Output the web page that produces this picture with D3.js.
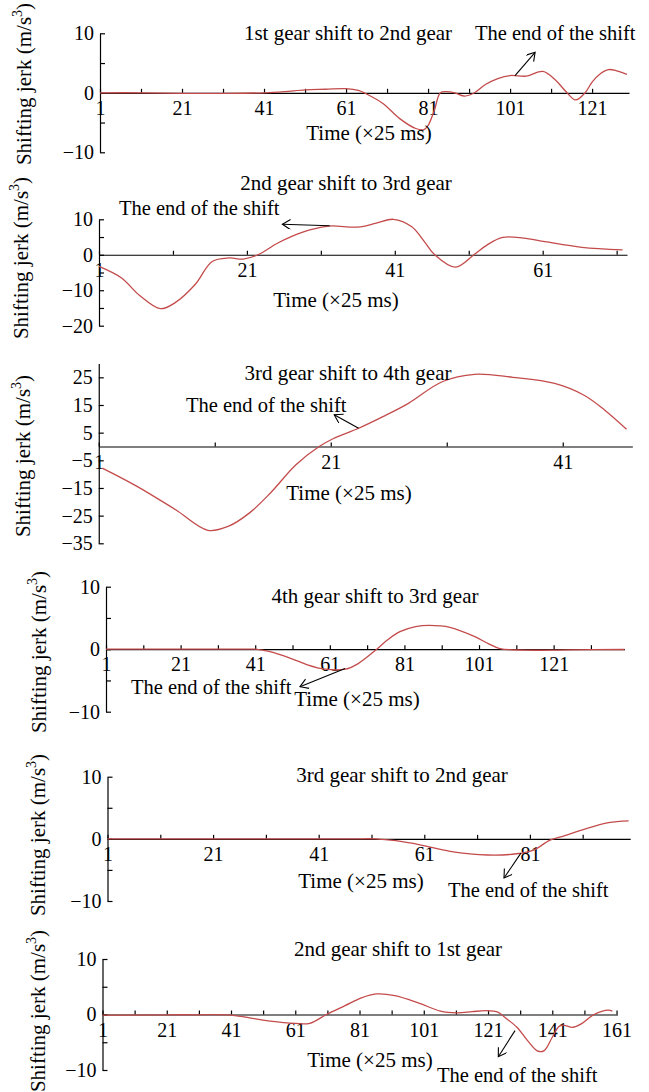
<!DOCTYPE html>
<html>
<head>
<meta charset="utf-8">
<script src="https://cdn.jsdelivr.net/npm/d3@7"></script>
<style>
  body { margin: 0; background: #fff; }
  svg text { font-family: "Liberation Serif", "Times New Roman", serif; fill: #000; }
</style>
</head>
<body>
<script>
// titles of the six shift cases
const titles = [
  "1st gear shift to 2nd gear",
  "2nd gear shift to 3rd gear",
  "3rd gear shift to 4th gear",
  "4th gear shift to 3rd gear",
  "3rd gear shift to 2nd gear",
  "2nd gear shift to 1st gear"
];

// time samples (x25 ms) and jerk values (m/s^3)
const shift12Time = [1, 11, 21, 31, 41, 46, 51, 56, 61, 64, 66, 70, 74, 78, 80, 81, 82.5, 84, 85.5, 87.5, 90, 92.3, 95, 98, 101, 105, 109, 112, 114.5, 117, 119.3, 121, 123, 125, 127, 129.5];
const shift12Jerk = [0, 0, -0.1, -0.1, 0, 0.2, 0.5, 0.6, 0.7, 0.4, -0.2, -1.8, -4.3, -6.0, -6.2, -5.5, -3.0, 0, 0.2, 0, -0.55, 0, 1.4, 2.4, 2.9, 2.8, 3.6, 2.2, 0.3, -1.2, 0, 1.8, 3.2, 3.9, 3.7, 3.1];

const shift23Time = [1, 4, 6.5, 9.3, 11.3, 14, 16.3, 18.6, 20.5, 22.5, 25, 27, 29.5, 32.1, 36, 38.5, 40.8, 43.3, 45, 46.4, 49.2, 51.7, 53.5, 55.6, 58.4, 61.3, 66.3, 71.8];
const shift23Jerk = [-3.3, -6.5, -11.5, -15.2, -13.5, -8.4, -1.9, -0.9, -1.2, 0, 3.1, 5.1, 7.0, 8.1, 7.8, 8.9, 10, 7.9, 3.7, 0, -3.5, 0, 2.8, 4.9, 4.7, 3.7, 2.1, 1.4];

const shift34Time = [1.3, 4.3, 7.6, 10.4, 12.2, 14, 15.8, 18, 20, 21.2, 23.4, 25.5, 27.7, 30.6, 33.4, 36.7, 40.3, 42.8, 44.6, 46.5];
const shift34Jerk = [-7.8, -14.4, -22.8, -30.3, -28.8, -24, -16.8, -6.6, 0, 2.8, 6.6, 10.8, 15.6, 23.4, 26.1, 25, 22.8, 18.6, 13.2, 6.2];

const shift43Time = [1, 11, 21, 31, 38, 41, 45, 50.7, 55, 59.7, 65.2, 68.6, 73.6, 76.5, 79.8, 84, 87.6, 93.2, 99.9, 103.5, 106.6, 113.3, 125, 140];
const shift43Jerk = [0, 0, 0, 0, 0, 0, -0.4, -1.5, -2.5, -3.2, -3.2, -2.3, 0, 1.5, 2.8, 3.6, 3.8, 3.5, 2.0, 0.9, 0.1, -0.15, -0.1, -0.05];

const shift32Time = [1, 11, 21, 31, 41, 48, 51.7, 55.6, 60.4, 65.9, 73, 78.5, 81.7, 84.8, 86.8, 91.1, 95.9, 99.7];
const shift32Jerk = [0, 0, 0, 0, 0, 0, 0, -0.3, -1.0, -2.0, -2.6, -2.4, -1.8, -0.2, 0.3, 1.5, 2.6, 2.9];

const shift21Time = [1, 11, 21, 31, 41, 46.8, 53.3, 61, 65.5, 70.7, 76.5, 81.6, 86.2, 92, 99.7, 106.2, 111.3, 116, 120.4, 124.2, 126.2, 130, 133.3, 136.5, 138.5, 141, 143, 144.2, 147.5, 150, 154, 158.4, 159.7];
const shift21Jerk = [-0.1, -0.1, -0.05, -0.05, -0.1, -0.6, -1.2, -1.6, -1.6, 0, 1.6, 3.0, 3.7, 3.4, 2.0, 0.6, 0.3, 0.5, 0.7, 0.4, -0.5, -2.3, -4.7, -6.6, -6.5, -4.1, -2.2, -1.9, -2.3, -1.7, 0, 0.8, 0.6];

// axis extents and ticks
const timeMax = [130, 72.4, 47, 140, 100, 161.3];
const jerkDomains = [[-10, 10], [-20, 10], [-35, 30], [-10, 10], [-10, 10], [-10, 10]];
const jerkTicks = [
  [-10, -5, 0, 5, 10],
  [-20, -15, -10, -5, 0, 5, 10],
  [-35, -25, -15, -5, 5, 15, 25],
  [-10, -5, 0, 5, 10],
  [-10, -5, 0, 5, 10],
  [-10, -5, 0, 5, 10]
];
const jerkTickLabels = [
  [-10, 0, 10],
  [-20, -10, 0, 10],
  [-35, -25, -15, -5, 5, 15, 25],
  [-10, 0, 10],
  [-10, 0, 10],
  [-10, 0, 10]
];

// "end of the shift" arrows, [time, jerk] of tail and head
const arrowFrom = [[102.2, 2.9], [32.2, 8.2], [23.4, 6.6], [65.1, -3.1], [79.3, -2.3], [129.4, -2.9]];
const arrowTo = [[107.1, 6.8], [25.8, 8.6], [21.3, 11.5], [53, -6.0], [76.1, -6.3], [124.2, -7.6]];

const series = [
  [shift12Time, shift12Jerk],
  [shift23Time, shift23Jerk],
  [shift34Time, shift34Jerk],
  [shift43Time, shift43Jerk],
  [shift32Time, shift32Jerk],
  [shift21Time, shift21Jerk]
];

// page layout of each panel (pixels)
const layout = [
  { x: [100, 629], y: [152.3, 33.3], title: [348, 40], note: [475, 40], xlab: [369, 140], ylab: [31, 84] },
  { x: [99, 627], y: [325.7, 219.3], title: [346, 190], note: [119, 215], xlab: [336, 307], ylab: [28, 258] },
  { x: [98.75, 632.35], y: [543.3, 363.5], title: [348, 380], note: [186, 412], xlab: [349, 500], ylab: [30, 456] },
  { x: [106, 624.5], y: [711.7, 586.7], title: [375, 603], note: [131, 694], xlab: [357, 706], ylab: [46, 652] },
  { x: [107.5, 630.2], y: [901, 776.7], title: [402, 782], note: [448, 897], xlab: [361, 888], ylab: [45, 835] },
  { x: [102.5, 617.5], y: [1070, 959], title: [398, 956], note: [437, 1082], xlab: [370, 1067], ylab: [45, 1011] }
];

const width = 649, height = 1092;
const serif = '"Liberation Serif", "Times New Roman", serif';
const fmt = d3.format('d');

const svg = d3.select('body')
  .append('svg')
  .attr('width', width)
  .attr('height', height);

svg.append('defs')
  .append('marker')
  .attr('id', 'head')
  .attr('markerUnits', 'userSpaceOnUse')
  .attr('markerWidth', 12)
  .attr('markerHeight', 12)
  .attr('refX', 9)
  .attr('refY', 5)
  .attr('orient', 'auto')
  .append('path')
  .attr('d', 'M1,0 L9,5 L1,10')
  .attr('fill', 'none')
  .attr('stroke', '#000')
  .attr('stroke-width', 1.1);

series.forEach(function (s, i) {
  const L = layout[i];
  const x = d3.scaleLinear().domain([1, timeMax[i]]).range(L.x);
  const y = d3.scaleLinear().domain(jerkDomains[i]).range(L.y);
  const g = svg.append('g');

  const xt = d3.range(1, timeMax[i] + 0.01, 10);
  const xAxis = g.append('g')
    .attr('transform', 'translate(0,' + y(0) + ')')
    .call(d3.axisBottom(x)
      .tickValues(xt)
      .tickSizeInner(-4)
      .tickSizeOuter(0)
      .tickPadding(8)
      .tickFormat(d => (d - 1) % 20 === 0 ? fmt(d) : ''));

  const yAxis = g.append('g')
    .attr('transform', 'translate(' + L.x[0] + ',0)')
    .call(d3.axisLeft(y)
      .tickValues(jerkTicks[i])
      .tickSizeInner(-5)
      .tickSizeOuter(0)
      .tickPadding(6)
      .tickFormat(d => jerkTickLabels[i].includes(d) ? fmt(d) : ''));

  [xAxis, yAxis].forEach(function (a) {
    a.attr('font-family', serif).attr('font-size', 20);
    a.selectAll('path, line').attr('stroke', '#000').attr('stroke-width', 1.2);
  });

  // jerk curve
  const line = d3.line()
    .x(d => x(d[0]))
    .y(d => y(d[1]))
    .curve(d3.curveCatmullRom.alpha(0.5));

  g.append('path')
    .datum(d3.zip(s[0], s[1]))
    .attr('d', line)
    .attr('fill', 'none')
    .attr('stroke', '#c44b4b')
    .attr('stroke-width', 1.3);

  // texts
  g.append('text')
    .attr('x', L.title[0]).attr('y', L.title[1])
    .attr('text-anchor', 'middle')
    .attr('font-size', 21)
    .text(titles[i]);

  g.append('text')
    .attr('x', L.note[0]).attr('y', L.note[1])
    .attr('font-size', 20.5)
    .text('The end of the shift');

  g.append('text')
    .attr('x', L.xlab[0]).attr('y', L.xlab[1])
    .attr('text-anchor', 'middle')
    .attr('font-size', 21)
    .text('Time (\u00d725 ms)');

  const yl = g.append('text')
    .attr('transform', 'translate(' + L.ylab[0] + ',' + L.ylab[1] + ') rotate(-90)')
    .attr('text-anchor', 'middle')
    .attr('font-size', 21);
  yl.append('tspan').text('Shifting jerk (m/s');
  yl.append('tspan').attr('font-size', 14).attr('dy', -9).text('3');
  yl.append('tspan').attr('dy', 9).text(')');

  // arrow
  g.append('line')
    .attr('x1', x(arrowFrom[i][0])).attr('y1', y(arrowFrom[i][1]))
    .attr('x2', x(arrowTo[i][0])).attr('y2', y(arrowTo[i][1]))
    .attr('stroke', '#000')
    .attr('stroke-width', 1.1)
    .attr('marker-end', 'url(#head)');
});
</script>
</body>
</html>
